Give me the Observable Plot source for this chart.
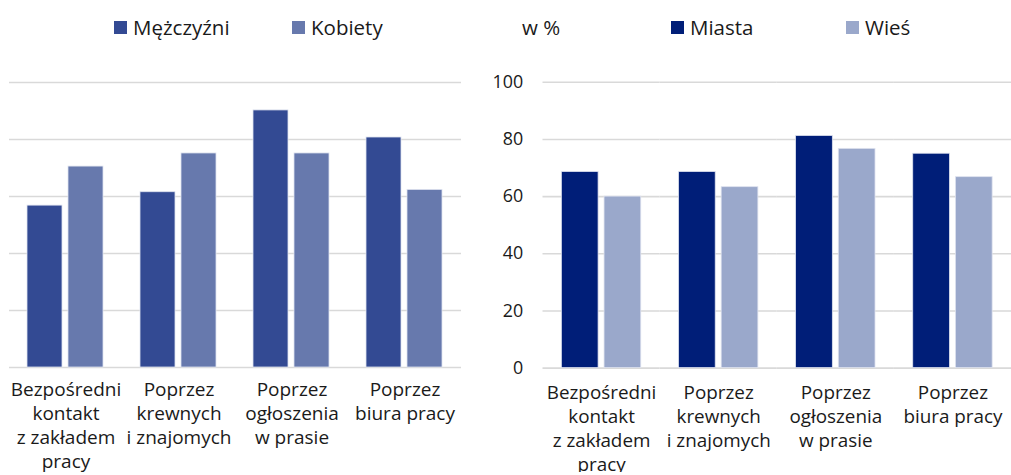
<!DOCTYPE html>
<html><head><meta charset="utf-8">
<script src="https://cdn.jsdelivr.net/npm/d3@7"></script>
<script src="https://cdn.jsdelivr.net/npm/@observablehq/plot@0.6"></script>
<style>
html,body{margin:0;padding:0;background:#fff;overflow:hidden;}
#wrap{position:relative;width:1011px;height:475px;overflow:hidden;font-family:"Open Sans",sans-serif;color:#1a1a1a;}
.leg{position:absolute;top:0;left:0;width:1011px;height:50px;font-size:20.5px;}
.item{position:absolute;top:13px;display:flex;align-items:center;white-space:nowrap;line-height:28px;}
.sw{width:13px;height:13px;margin-right:6px;display:inline-block;}
.panel{position:absolute;top:50px;}
</style></head><body>
<div id="wrap">
  <div class="leg" id="legend"></div>
  <div class="panel" id="left" style="left:0px"></div>
  <div class="panel" id="right" style="left:475px"></div>
</div>
<script>
// ---- data ----
const categories = ["kontakt", "krewni", "ogloszenia", "biura"];
const tickLabels = [
  "Bezpośredni\nkontakt\nz zakładem\npracy",
  "Poprzez\nkrewnych\ni znajomych",
  "Poprzez\nogłoszenia\nw prasie",
  "Poprzez\nbiura pracy"
];
const leftSeries = ["Mężczyźni", "Kobiety"];
const menValues = [56.8, 61.5, 90.2, 80.7];
const womenValues = [70.5, 75.1, 75.1, 62.3];
const rightSeries = ["Miasta", "Wieś"];
const cityValues = [68.6, 68.6, 81.2, 75.0];
const villageValues = [60.0, 63.3, 76.7, 66.8];
const yTicks = [0, 20, 40, 60, 80, 100];
const unitLabel = "w %";

const leftColors = ["#334a93", "#6779ad"];
const rightColors = ["#001e78", "#9aa8cb"];

const leftData = categories.flatMap((c, i) => [
  {cat: c, series: leftSeries[0], value: menValues[i]},
  {cat: c, series: leftSeries[1], value: womenValues[i]}
]);
const rightData = categories.flatMap((c, i) => [
  {cat: c, series: rightSeries[0], value: cityValues[i]},
  {cat: c, series: rightSeries[1], value: villageValues[i]}
]);
const fmt = d => tickLabels[categories.indexOf(d)];
const FONT = "'Open Sans', sans-serif";

function panel(data, series, colors, opts) {
  return Plot.plot({
    width: opts.width, height: 425,
    marginLeft: opts.marginLeft, marginRight: opts.marginRight,
    marginTop: 32, marginBottom: opts.marginBottom,
    style: {fontFamily: FONT, fontSize: "19px", color: "#1a1a1a", background: "transparent"},
    fx: {domain: categories, padding: 0, label: null},
    x: {domain: series, paddingInner: 0.14, paddingOuter: 0.44, axis: null},
    y: {domain: [0, 100], axis: null},
    color: {domain: series, range: colors},
    marks: [
      Plot.gridY(yTicks, {stroke: "#d9d9d9", strokeOpacity: 1, strokeWidth: 1.6}),
      Plot.barY(data, {fx: "cat", x: "series", y: "value", fill: "series", stroke: "#dfe3ef", strokeWidth: 0.8}),
      Plot.axisFx({anchor: "bottom", tickSize: 0, tickPadding: opts.labelPad, fontSize: 19, lineHeight: 1.27, tickFormat: fmt, label: null, fill: "#1a1a1a"}),
      ...(opts.yAxis ? [Plot.axisY(yTicks, {anchor: "left", tickSize: 0, tickPadding: 20, fontSize: 18, label: null, fill: "#1a1a1a"})] : [])
    ]
  });
}

document.getElementById("left").append(panel(leftData, leftSeries, leftColors,
  {width: 470, marginLeft: 9, marginRight: 9, marginBottom: 108, yAxis: false, labelPad: 11}));
document.getElementById("right").append(panel(rightData, rightSeries, rightColors,
  {width: 540, marginLeft: 68, marginRight: 0, marginBottom: 105, yAxis: true, labelPad: 14}));

// ---- legends ----
const legend = document.getElementById("legend");
const legendItems = [
  {text: leftSeries[0], color: leftColors[0], left: 114},
  {text: leftSeries[1], color: leftColors[1], left: 292},
  {text: unitLabel, color: null, left: 522},
  {text: rightSeries[0], color: rightColors[0], left: 671},
  {text: rightSeries[1], color: rightColors[1], left: 846}
];
for (const it of legendItems) {
  const d = document.createElement("div");
  d.className = "item";
  d.style.left = it.left + "px";
  if (it.color) {
    const s = document.createElement("span");
    s.className = "sw";
    s.style.background = it.color;
    d.append(s);
  }
  d.append(document.createTextNode(it.text));
  legend.append(d);
}
</script>
</body></html>
